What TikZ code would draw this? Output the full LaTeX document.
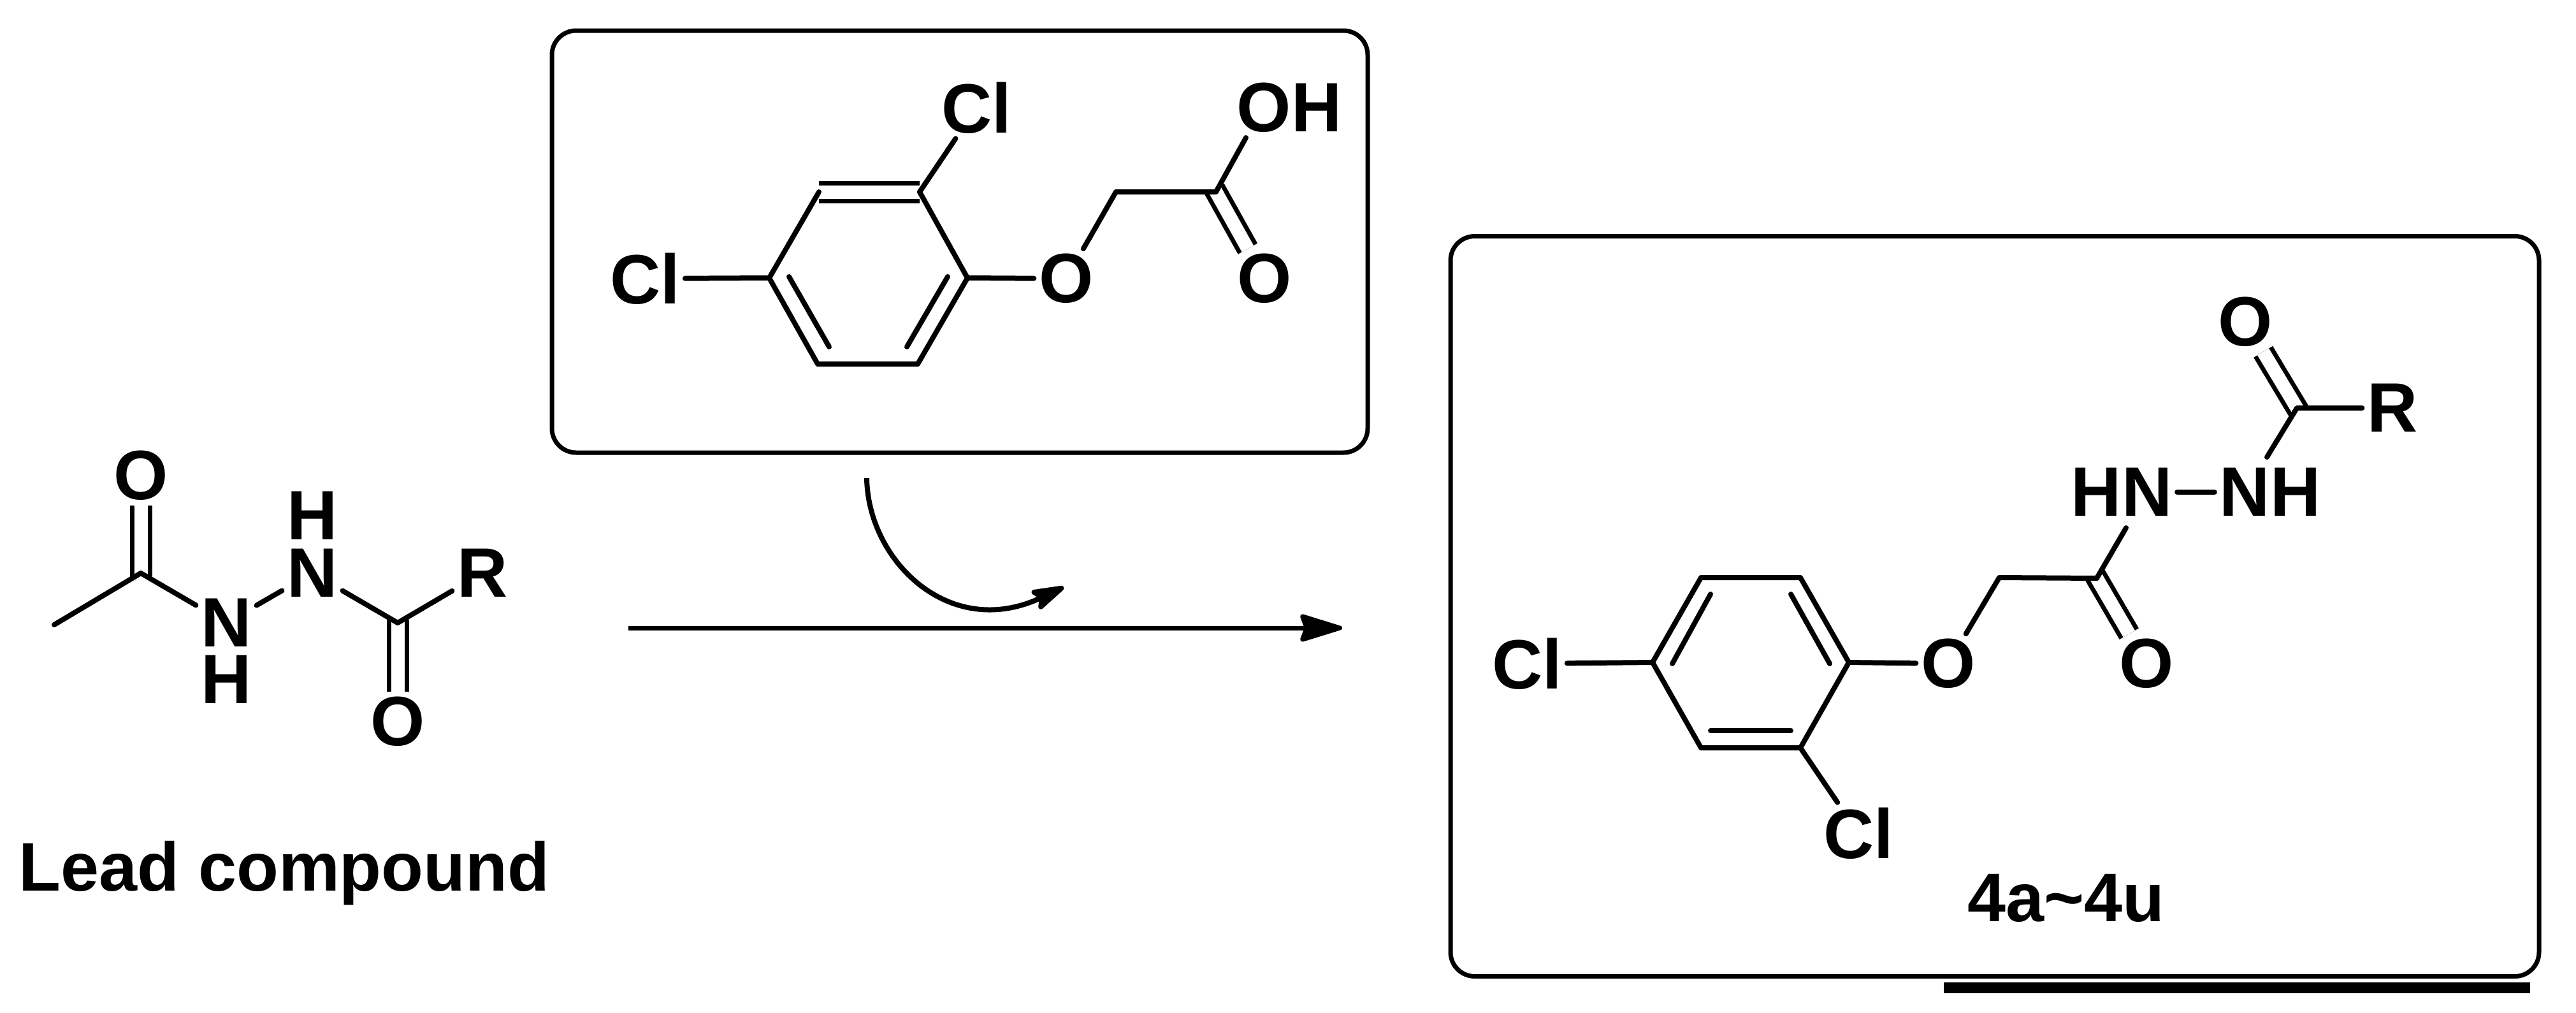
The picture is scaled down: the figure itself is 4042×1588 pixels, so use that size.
\documentclass[tikz,border=0pt]{standalone}
\usepackage{fontspec}
\setmainfont{Liberation Sans}
\usetikzlibrary{arrows.meta}
\tikzset{
  atom/.style={font=\bfseries\fontsize{31.2}{32}\selectfont,inner sep=0pt,outer sep=.8mm},
  caption/.style={font=\bfseries\fontsize{30.7}{32}\selectfont,inner sep=0pt,anchor=base},
  bond/.style={line width=.8mm,line cap=round,line join=round},
  dbond/.style={line width=.7mm,double,double distance=2.1mm,shorten <=-.5mm},
  panel/.style={draw,line width=.7mm,rounded corners=3.8mm,inner sep=0pt}
}
\begin{document}
\begin{tikzpicture}[x=.1mm,y=-.1mm]
  \useasboundingbox (0,0) rectangle (4042,1588);

  \node[panel,minimum width=128mm,minimum height=66.2mm] (reagentbox) at (1506,379) {};
  \node[panel,minimum width=170.8mm,minimum height=116.1mm] (productbox) at (3130,951) {};
  \fill (3050,1541) rectangle (3970,1558);

  \coordinate (me) at (85,980);
  \coordinate (ca) at (221,899);
  \coordinate (cb) at (624,977);
  \node[atom] (oa) at (221,746) {O};
  \node[atom] (na) at (355,977) {N};
  \node[atom] (ha) at (355,1066) {H};
  \node[atom] (nb) at (490,899) {N};
  \node[atom] (hb) at (490,809) {H};
  \node[atom] (ra) at (757,899) {R};
  \node[atom] (ob) at (624,1132) {O};
  \node[caption] (lead) at (446,1397) {Lead compound};
  \draw[dbond] (ca) -- (oa);
  \draw[dbond] (cb) -- (ob);
  \draw[bond] (me) -- (ca) -- (na);
  \draw[bond] (na) -- (nb);
  \draw[bond] (nb) -- (cb) -- (ra);

  \coordinate (l1) at (1207,436);
  \coordinate (l2) at (1285,301);
  \coordinate (l3) at (1443,301);
  \coordinate (l4) at (1518,436);
  \coordinate (l5) at (1440,571);
  \coordinate (l6) at (1283,571);
  \coordinate (l1i) at (1238,434);
  \coordinate (l6i) at (1301,544);
  \coordinate (l4i) at (1487,434);
  \coordinate (l5i) at (1423,544);
  \coordinate (lch) at (1751,301);
  \coordinate (lco) at (1908,301);
  \coordinate (lohend) at (1955,216);
  \node[atom] (lcla) at (1532,169) {Cl};
  \node[atom] (lclb) at (1012,437) {Cl};
  \node[atom] (lo) at (1673,437) {O};
  \node[atom] (loh) at (2023,169) {OH};
  \node[atom] (lob) at (1984,437) {O};
  \draw[dbond,shorten <=0pt] (l2) -- (l3);
  \draw[dbond] (lco) -- (lob);
  \draw[bond] (l3) -- (l4) -- (l5) -- (l6) -- (l1) -- (l2);
  \draw[bond] (l1i) -- (l6i);
  \draw[bond] (l4i) -- (l5i);
  \draw[bond] (l3) -- (lcla);
  \draw[bond] (lclb) -- (l1);
  \draw[bond] (l4) -- (lo);
  \draw[bond] (lo) -- (lch) -- (lco) -- (lohend);

  \coordinate (bendstart) at (1360,750);
  \coordinate (bendend) at (1669,921);
  \coordinate (mainstart) at (986,985);
  \coordinate (mainend) at (2106,985);
  \draw[line width=.8mm,-{Stealth[length=6.4mm,width=3.8mm,inset=1.2mm,round]}] (bendstart) .. controls (1362,880) and (1490,1005) .. (bendend);
  \draw[line width=.7mm,-{Stealth[length=7.6mm,width=4.6mm,inset=.8mm,round]}] (mainstart) -- (mainend);

  \coordinate (p1) at (2593,1039);
  \coordinate (p2) at (2669,906);
  \coordinate (p3) at (2825,906);
  \coordinate (p4) at (2901,1039);
  \coordinate (p5) at (2825,1173);
  \coordinate (p6) at (2669,1173);
  \coordinate (p2a) at (2684,932);
  \coordinate (p1a) at (2624,1041);
  \coordinate (p3a) at (2810,932);
  \coordinate (p4a) at (2871,1041);
  \coordinate (p5a) at (2810,1146);
  \coordinate (p6a) at (2684,1146);
  \coordinate (pch) at (3137,906);
  \coordinate (pca) at (3290,907);
  \coordinate (pcb) at (3604,640);
  \coordinate (pnaend) at (3336,828);
  \coordinate (pnbend) at (3557,717);
  \node[atom] (pcla) at (2396,1041) {Cl};
  \node[atom] (pclb) at (2916,1307) {Cl};
  \node[atom] (po) at (3057,1041) {O};
  \node[atom] (poa) at (3368,1041) {O};
  \node[atom] (pna) at (3329,772) {HN};
  \node[atom] (pnb) at (3562,772) {NH};
  \node[atom] (pr) at (3754,640) {R};
  \node[atom] (pob) at (3523,505) {O};
  \node[caption] (series) at (3242,1445) {4a\char`\~4u};
  \draw[dbond] (pca) -- (poa);
  \draw[dbond] (pcb) -- (pob);
  \draw[bond] (p1) -- (p2) -- (p3) -- (p4) -- (p5) -- (p6) -- (p1);
  \draw[bond] (p2a) -- (p1a);
  \draw[bond] (p3a) -- (p4a);
  \draw[bond] (p5a) -- (p6a);
  \draw[bond] (pcla) -- (p1);
  \draw[bond] (p5) -- (pclb);
  \draw[bond] (p4) -- (po);
  \draw[bond] (po) -- (pch) -- (pca) -- (pnaend);
  \draw[bond] (pna) -- (pnb);
  \draw[bond] (pnbend) -- (pcb) -- (pr);
\end{tikzpicture}
\end{document}
